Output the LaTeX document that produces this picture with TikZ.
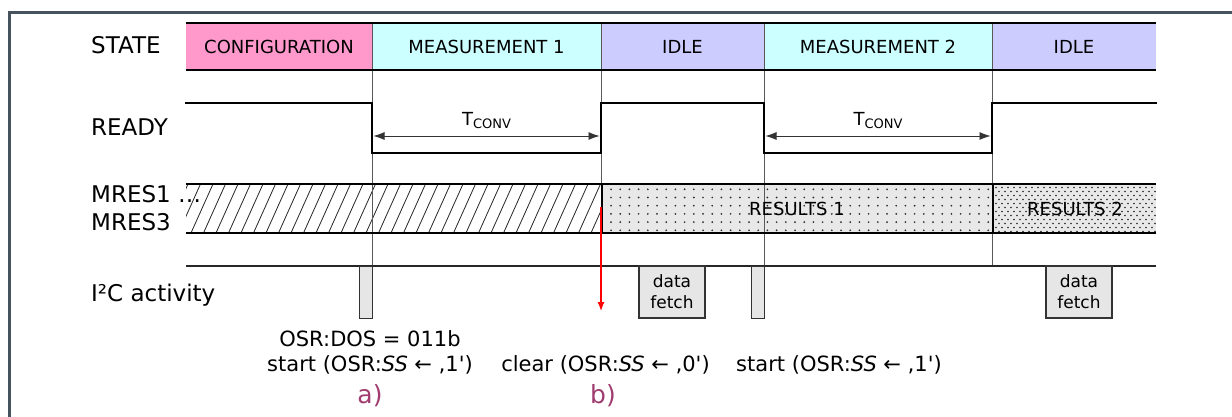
\documentclass[tikz,border=0pt]{standalone}
\usepackage{fontspec}
\setmainfont{DejaVu Sans}
\usetikzlibrary{arrows.meta}
\definecolor{framec}{RGB}{70,82,94}
\definecolor{cfgc}{RGB}{255,153,204}
\definecolor{measc}{RGB}{204,255,255}
\definecolor{idlec}{RGB}{204,204,255}
\definecolor{lblc}{RGB}{160,60,112}
\definecolor{actc}{RGB}{230,230,230}
\definecolor{resc}{RGB}{232,232,232}
\begin{document}
\begin{tikzpicture}[x=1pt,y=-1pt,
  lab/.style={anchor=base west,inner sep=0pt,font=\fontsize{23}{27}\selectfont},
  sttext/.style={anchor=base,inner sep=0pt,font=\fontsize{18}{22}\selectfont},
  bottxt/.style={anchor=base,inner sep=0pt,font=\fontsize{21}{25}\selectfont},
  abl/.style={anchor=base,inner sep=0pt,text=lblc,font=\fontsize{25}{29}\selectfont},
  sig/.style={line width=2.5pt,line cap=rect},
  rowline/.style={line width=2.2pt},
  divider/.style={line width=0.9pt,draw=black!65},
  pulse/.style={draw=black!80,fill=actc,line width=1.3pt,inner sep=0pt,anchor=north west,minimum width=13pt,minimum height=52pt},
  fetchbox/.style={draw=black!80,fill=actc,line width=1.3pt,inner sep=0pt,minimum width=66pt,minimum height=52pt,align=center,font=\fontsize{17}{22}\selectfont},
  dimarrow/.style={{Latex[length=11pt,width=8pt]}-{Latex[length=11pt,width=8pt]},line width=0.8pt,draw=black!80}
]
\useasboundingbox (0,0) rectangle (1232,417);
\fill[white] (0,0) rectangle (1232,417);
% frame
\draw[framec,line width=3pt] (9.5,417) -- (9.5,13) -- (1232,13);

% state row
\fill[cfgc] (186,23) rectangle (372,70);
\fill[measc] (372,23) rectangle (601,70);
\fill[idlec] (601,23) rectangle (764,70);
\fill[measc] (764,23) rectangle (992,70);
\fill[idlec] (992,23) rectangle (1156,70);

% MRES fills
\fill[resc] (601,184) rectangle (992,233);
\fill[resc] (992,184) rectangle (1156,233);
\begin{scope}
  \clip (186,184) rectangle (601,233);
  \foreach \i in {0,...,34} {
    \draw[line width=0.8pt,draw=black!85] ({166+12.5*\i},233) -- ({188+12.5*\i},184);
  }
\end{scope}
\begin{scope}
  \clip (603,185) rectangle (991,232);
  \foreach \j in {0,...,5} {
    \foreach \i in {0,...,42} {
      \fill[black!85] ({611+9.2*\i},{189.3+8.2*\j}) circle (0.95pt);
    }
  }
\end{scope}
\begin{scope}
  \clip (994,185) rectangle (1156,232);
  \foreach \j in {0,...,11} {
    \pgfmathsetmacro{\off}{mod(\j,2)*3}
    \foreach \i in {0,...,27} {
      \fill[black!85] ({996+6*\i+\off},{187.5+4*\j}) circle (0.8pt);
    }
  }
\end{scope}

% dividers
\foreach \xx in {372,601,764,992} {
  \draw[divider] (\xx,23) -- (\xx,266);
}

% row lines
\draw[rowline] (186,23) -- (1156,23);
\draw[rowline] (186,70) -- (1156,70);
\draw[rowline] (186,184) -- (1156,184);
\draw[rowline] (186,233) -- (1156,233);
\draw[rowline,draw=black!85] (186,266) -- (1156,266);
\draw[line width=2.5pt] (602,184) -- (602,233);
\draw[line width=2.5pt] (993,184) -- (993,233);

% READY waveform
\draw[sig] (186,103) -- (372,103) -- (372,153) -- (601,153) -- (601,103) -- (764,103) -- (764,153) -- (992,153) -- (992,103) -- (1156,103);

% labels
\node[lab] (lstate) at (91,54) {STATE};
\node[lab] (lready) at (91,135.5) {READY};
\node[lab] (lmres1) at (91,203) {MRES1 …};
\node[lab] (lmres3) at (91,230) {MRES3};
\node[lab] (li2c) at (91,301) {I²C activity};

% state texts
\node[sttext] (s1) at (279,53.3) {CONFIGURATION};
\node[sttext] (s2) at (486.5,53.3) {MEASUREMENT 1};
\node[sttext] (s3) at (682.5,53.3) {IDLE};
\node[sttext] (s4) at (878,53.3) {MEASUREMENT 2};
\node[sttext] (s5) at (1074,53.3) {IDLE};

% Tconv
\coordinate (t1a) at (373.5,136);
\coordinate (t1b) at (599.5,136);
\coordinate (t2a) at (765.5,136);
\coordinate (t2b) at (990.5,136);
\draw[dimarrow] (t1a) -- (t1b);
\draw[dimarrow] (t2a) -- (t2b);
\node[sttext] (tc1) at (486.5,126) {T\raisebox{-2.5pt}{\fontsize{13}{13}\selectfont CONV}};
\node[sttext] (tc2) at (878,126) {T\raisebox{-2.5pt}{\fontsize{13}{13}\selectfont CONV}};

% results text
\node[sttext] (r1) at (797,215) {RESULTS 1};
\node[sttext] (r2) at (1075,215) {RESULTS 2};

% I2C activity
\node[pulse] (p1) at (359,266) {};
\node[pulse] (p2) at (750.5,266) {};
\node[fetchbox] (df1) at (672,292) {data\\[-1pt]fetch};
\node[fetchbox] (df2) at (1079,292) {data\\[-1pt]fetch};

% red arrow
\coordinate (ra) at (601,207);
\coordinate (rb) at (601,311);
\draw[red,line width=1.2pt,-{Latex[length=9pt,width=7pt]}] (ra) -- (rb);

% bottom texts
\node[bottxt] (osr) at (370,346.5) {OSR:DOS = 011b};
\node[bottxt] (st1) at (370,371) {start (OSR:\textit{SS} ← ‚1\textquotesingle)};
\node[bottxt] (cl) at (605.5,371) {clear (OSR:\textit{SS} ← ‚0\textquotesingle)};
\node[bottxt] (st2) at (839,371) {start (OSR:\textit{SS} ← ‚1\textquotesingle)};
\node[abl] (la) at (370,403) {a)};
\node[abl] (lb) at (603,403) {b)};
\end{tikzpicture}
\end{document}
